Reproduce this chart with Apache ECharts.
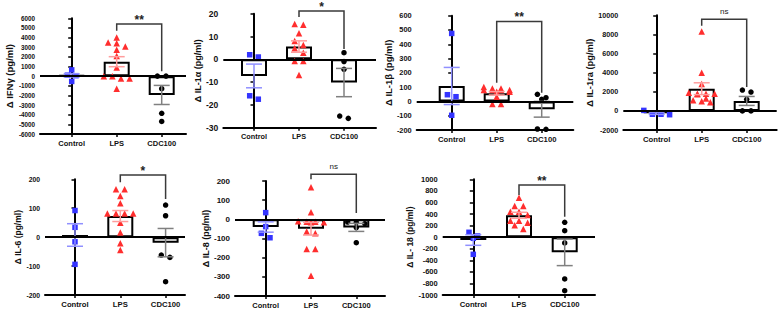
<!DOCTYPE html>
<html><head><meta charset="utf-8">
<script src="https://cdn.jsdelivr.net/npm/echarts@6/dist/echarts.min.js"></script>
<style>html,body{margin:0;padding:0;background:#fff}#c{width:781px;height:312px}</style>
</head><body><div id="c"></div>
<script>
// ---------------- DATA ----------------
const categories = ['Control', 'LPS', 'CDC100'];
const titles = ['Δ IFNγ (pg/ml)', 'Δ IL-1α (pg/ml)', 'Δ IL-1β (pg/ml)', 'Δ IL-1ra (pg/ml)',
                'Δ IL-6 (pg/ml)', 'Δ IL-8 (pg/ml)', 'Δ IL- 18 (pg/ml)'];
// y-axis tick labels: [min, max, step]
const yTicks = [[-6000, 6000, 1000], [-30, 20, 10], [-200, 600, 100], [-2000, 10000, 2000],
                [-200, 200, 100], [-400, 200, 100], [-1000, 1000, 200]];
const sigLabels = ['**', '*', '**', 'ns', '*', 'ns', '**'];

const ifngControl = [650, 50, 100, -550];
const ifngLPS = [4000, 3500, 3400, 3080, 2730, 2100, 900, 0, 0, -250, -250, -1300];
const ifngCDC100 = [0, 0, -1300, -3850, -4700];
const ifngMean = [80, 1500, -1950];
const ifngSEM = [170, 520, 990];
const ifngBracket = [5400, 4700, 500];   // top, LPS end, CDC100 end

const il1aControl = [1, 2, -16, -17.5];
const il1aLPS = [15.2, 15.5, 11.4, 8, 6.3, 4.8, 2.9, -0.7, -0.7, -6.9];
const il1aCDC100 = [2.9, -1, -4.4, -24.9, -25.9];
const il1aMean = [-7.3, 5.6, -10.2];
const il1aSEM = [5.2, 2.5, 6.2];
const il1aBracket = [21.2, 18.6, 4.5];

const il1bControl = [476, 47, 33, -97];
const il1bLPS = [101, 91, 91, 80, 80, 80, 80, 68, 68, 33, -18, -18];
const il1bCDC100 = [50, 26, 15, -193, -195];
const il1bMean = [108, 57, -55];
const il1bSEM = [130, 12, 55];
const il1bBracket = [560, 130, 60];

const il1raControl = [50, -350, -350, -400];
const il1raLPS = [8300, 4000, 2800, 1900, 1800, 1800, 1750, 1800, 1300, 1100, 900, 1000];
const il1raCDC100 = [2180, 1970, 1210, 0, 0];
const il1raMean = [-250, 2320, 1040];
const il1raSEM = [120, 620, 470];
const il1raBracket = [9580, 8900, 2500];

const il6Control = [92, 34, -16, -94];
const il6LPS = [166, 166, 142, 117, 82, 82, 82, 82, 50, 16, -21, -44];
const il6CDC100 = [111, 74, -62, -70, -154];
const il6Mean = [7.5, 73, -19];
const il6SEM = [39, 19, 49];
const il6Bracket = [215, 190, 132];

const il8Control = [35, -38, -73, -96];
const il8LPS = [167, 37, -10, -12, -12, -15, -15, -64, -73, -155, -155, -294];
const il8CDC100 = [-14, -16, -23, -43, -122];
const il8Mean = [-40, -49, -42];
const il8SEM = [27, 33, 21];
const il8Bracket = [235, 209, 33];

const il18Control = [84, 20, -20, -297];
const il18LPS = [683, 539, 539, 441, 441, 383, 285, 285, 251, 205, 141];
const il18CDC100 = [256, 112, -101, -723, -925];
const il18Mean = [-49, 378, -262];
const il18SEM = [92, 52, 230];
const il18Bracket = [900, 730, 354];

const panels = [
  {groups: [ifngControl, ifngLPS, ifngCDC100], mean: ifngMean, sem: ifngSEM, bracket: ifngBracket},
  {groups: [il1aControl, il1aLPS, il1aCDC100], mean: il1aMean, sem: il1aSEM, bracket: il1aBracket},
  {groups: [il1bControl, il1bLPS, il1bCDC100], mean: il1bMean, sem: il1bSEM, bracket: il1bBracket},
  {groups: [il1raControl, il1raLPS, il1raCDC100], mean: il1raMean, sem: il1raSEM, bracket: il1raBracket},
  {groups: [il6Control, il6LPS, il6CDC100], mean: il6Mean, sem: il6SEM, bracket: il6Bracket},
  {groups: [il8Control, il8LPS, il8CDC100], mean: il8Mean, sem: il8SEM, bracket: il8Bracket},
  {groups: [il18Control, il18LPS, il18CDC100], mean: il18Mean, sem: il18SEM, bracket: il18Bracket}
];

// ---------------- LAYOUT / STYLE ----------------
const layout = [
  {ax: 40,    c0: 71.7,  step: 45,   end: 186,   top: 18.3,  bot: 134, tick: 6.3, cat: 7.5, title: 9.5, tgap: 25},
  {ax: 223.3, c0: 254,   step: 45,   end: 376,   top: 13.7,  bot: 127.7, tick: 8.5, cat: 7.3, title: 9, tgap: 19},
  {ax: 416.7, c0: 451.7, step: 45,   end: 573.3, top: 15.7,  bot: 130, tick: 7.4, cat: 7.7, title: 9.5, tgap: 19},
  {ax: 623.3, c0: 656.7, step: 45,   end: 776.7, top: 15.3,  bot: 130, tick: 7.2, cat: 7.7, title: 9.3, tgap: 21},
  {ax: 45,    c0: 75,    step: 45.3, end: 185,   top: 179.3, bot: 295, tick: 6.8, cat: 7.7, title: 8.5, tgap: 23},
  {ax: 235,   c0: 265.7, step: 45.3, end: 385,   top: 181,   bot: 296, tick: 8,   cat: 7.5, title: 9, tgap: 22},
  {ax: 442.7, c0: 473.3, step: 45.7, end: 595,   top: 179.3, bot: 295, tick: 7.5, cat: 7.7, title: 8.5, tgap: 26}
];
const FONT = '"Liberation Sans", Arial, sans-serif';
const pointColors = ['#3434ff', '#ff2e2e', '#000000'];
const errColors = ['#9090ff', '#ff9d9d', '#808080'];
const symbols = ['rect', 'triangle', 'circle'];
const symbolSizes = [5.5, 6.5, 5.5];

// simple row-based swarm to spread overlapping points horizontally (in px)
function swarm(vals, pxPerUnit, binPx, spacing, maxRow) {
  const idx = vals.map((v, i) => i).sort((a, b) => vals[b] - vals[a]);
  const off = new Array(vals.length).fill(0);
  let i = 0;
  while (i < idx.length) {
    let j = i;
    const y0 = vals[idx[i]] * pxPerUnit;
    while (j + 1 < idx.length && (j - i + 1) < maxRow && (y0 - vals[idx[j + 1]] * pxPerUnit) < binPx) j++;
    const n = j - i + 1;
    for (let k = 0; k < n; k++) off[idx[i + k]] = (k - (n - 1) / 2) * spacing;
    i = j + 1;
  }
  return off;
}

const grids = [], xAxes = [], yAxes = [], series = [];
panels.forEach((P, i) => {
  const L = layout[i];
  const [ymin, ymax, ystep] = yTicks[i];
  grids.push({left: L.ax, top: L.top, width: L.end - L.ax, height: L.bot - L.top, containLabel: false});
  xAxes.push({
    type: 'value', gridIndex: i,
    min: (L.ax - L.c0) / L.step, max: (L.end - L.c0) / L.step,
    axisLine: {show: true, onZero: false, lineStyle: {color: '#000', width: 2}},
    axisTick: {show: true, customValues: [0, 1, 2], length: 3, lineStyle: {color: '#000', width: 1.5}},
    axisLabel: {show: true, customValues: [0, 1, 2], formatter: v => categories[Math.round(v)],
      fontSize: L.cat, fontWeight: 'bold', color: '#111', margin: 5, fontFamily: FONT},
    splitLine: {show: false}
  });
  yAxes.push({
    type: 'value', gridIndex: i, min: ymin, max: ymax, interval: ystep,
    axisLine: {show: true, lineStyle: {color: '#000', width: 2}},
    axisTick: {show: true, length: 3.5, lineStyle: {color: '#000', width: 1.5}},
    axisLabel: {fontSize: L.tick, fontWeight: 'bold', color: '#111', margin: 5, fontFamily: FONT,
      formatter: v => String(v)},
    splitLine: {show: false},
    name: titles[i], nameLocation: 'middle', nameGap: L.tgap,
    nameTextStyle: {fontSize: L.title, fontWeight: 'bold', color: '#111', fontFamily: FONT}
  });
  // bars
  series.push({
    type: 'bar', xAxisIndex: i, yAxisIndex: i, silent: true, z: 2,
    data: P.mean.map((m, k) => [k, m]), barWidth: 26,
    itemStyle: {color: '#fff', borderColor: '#000', borderWidth: 2},
    markLine: {silent: true, symbol: ['none', 'none'], label: {show: false},
      lineStyle: {color: '#000', width: 2, type: 'solid'}, data: [{yAxis: 0}]}
  });
  // points
  const pxPerUnit = (L.bot - L.top) / (ymax - ymin);
  P.groups.forEach((vals, g) => {
    const off = swarm(vals, pxPerUnit, 4.5, 8.6, 4);
    series.push({
      type: 'scatter', xAxisIndex: i, yAxisIndex: i, silent: true, z: 3,
      symbol: symbols[g], symbolSize: symbolSizes[g],
      itemStyle: {color: pointColors[g], opacity: 1},
      data: vals.map((v, k) => [g + off[k] / L.step, v])
    });
  });
  // error bars (mean ± SEM)
  series.push({
    type: 'custom', xAxisIndex: i, yAxisIndex: i, silent: true, z: 4,
    data: P.mean.map((m, k) => [k, m, P.sem[k]]), encode: {x: 0, y: 1},
    renderItem: (params, api) => {
      const x = api.value(0), m = api.value(1), s = api.value(2);
      const a = api.coord([x, m + s]), b = api.coord([x, m - s]);
      const c = errColors[Math.round(x)], cap = 8;
      const st = {stroke: c, lineWidth: 1.5};
      return {type: 'group', children: [
        {type: 'line', shape: {x1: a[0], y1: a[1], x2: b[0], y2: b[1]}, style: st},
        {type: 'line', shape: {x1: a[0] - cap, y1: a[1], x2: a[0] + cap, y2: a[1]}, style: st},
        {type: 'line', shape: {x1: b[0] - cap, y1: b[1], x2: b[0] + cap, y2: b[1]}, style: st}
      ]};
    }
  });
  // significance bracket
  const lbl = sigLabels[i];
  series.push({
    type: 'custom', xAxisIndex: i, yAxisIndex: i, silent: true, z: 5, clip: false,
    data: [[1.5, P.bracket[0], P.bracket[1], P.bracket[2]]], encode: {x: 0, y: 1},
    renderItem: (params, api) => {
      const top = api.value(1);
      const a = api.coord([1, top]), b = api.coord([2, top]);
      const a2 = api.coord([1, api.value(2)]), b2 = api.coord([2, api.value(3)]);
      const isStar = lbl.indexOf('*') >= 0;
      return {type: 'group', children: [
        {type: 'polyline', shape: {points: [a2, a, b, b2]}, style: {stroke: '#3a3a3a', lineWidth: 1.5, fill: null}},
        {type: 'text', x: (a[0] + b[0]) / 2, y: a[1] - (isStar ? 4 : 7.5),
          style: {text: lbl, fill: '#222', align: 'center', verticalAlign: 'middle',
            font: (isStar ? 'bold 12px ' : 'normal 8px ') + FONT}}
      ]};
    }
  });
});

const chart = echarts.init(document.getElementById('c'), null, {renderer: 'svg'});
chart.setOption({
  animation: false,
  backgroundColor: '#fff',
  grid: grids, xAxis: xAxes, yAxis: yAxes, series: series
});
</script>
</body></html>
